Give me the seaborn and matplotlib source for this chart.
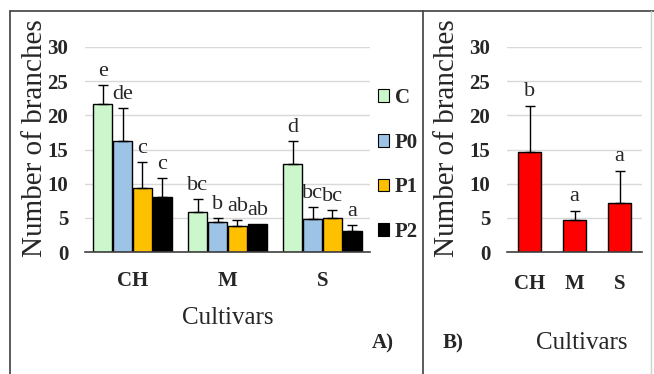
import matplotlib
matplotlib.use("Agg")
import matplotlib.pyplot as plt
from matplotlib.lines import Line2D
from matplotlib.patches import Patch
import pandas as pd
import seaborn as sns

# data
cultivars = ["CH", "M", "S"]
treatments = ["C", "P0", "P1", "P2"]
means_a = {
    "C": [21.6, 5.8, 12.9],
    "P0": [16.2, 4.4, 4.8],
    "P1": [9.4, 3.8, 5.0],
    "P2": [8.1, 4.1, 3.1],
}
err_a = {
    "C": [2.8, 1.9, 3.3],
    "P0": [4.9, 0.6, 1.8],
    "P1": [3.8, 0.9, 1.1],
    "P2": [2.7, 0.0, 0.9],
}
letters_a = {
    "C": ["e", "bc", "d"],
    "P0": ["de", "b", "bc"],
    "P1": ["c", "ab", "bc"],
    "P2": ["c", "ab", "a"],
}
means_b = [14.7, 4.7, 7.2]
err_b = [6.6, 1.3, 4.6]
letters_b = ["b", "a", "a"]

colors = {"C": "#ccf7cc", "P0": "#9dc3e6", "P1": "#ffc000", "P2": "#000000"}

sns.set_style("white")
plt.rcParams["font.family"] = ["Liberation Serif", "DejaVu Serif"]

rows = []
for t in treatments:
    for c, v in zip(cultivars, means_a[t]):
        rows.append({"Cultivar": c, "Treatment": t, "Branches": v})
df = pd.DataFrame(rows)

fig = plt.figure(figsize=(6.54, 3.74), dpi=100)
W, H = 654, 374

def fx(px):
    return px / W

def fy(py):
    return 1 - py / H

ax_a = fig.add_axes([fx(85), fy(252), fx(370) - fx(85), fy(47) - fy(252)])
ax_b = fig.add_axes([fx(507), fy(252), fx(642) - fx(507), fy(47) - fy(252)])

sns.barplot(data=df, x="Cultivar", y="Branches", hue="Treatment",
            order=cultivars, hue_order=treatments, palette=colors,
            saturation=1, width=0.84, gap=0.08, errorbar=None,
            edgecolor="black", linewidth=1, legend=False, ax=ax_a)

for t, cont in zip(treatments, ax_a.containers):
    for bar, m, e, lab in zip(cont, means_a[t], err_a[t], letters_a[t]):
        xc = bar.get_x() + bar.get_width() / 2
        if e > 0:
            ax_a.errorbar(xc, m, yerr=[[0], [e]], fmt="none", ecolor="black",
                          elinewidth=1, capsize=3.5, capthick=1)
        ax_a.text(xc, m + e + 0.6, lab, ha="center", va="bottom",
                  fontsize=16, clip_on=False)

sns.barplot(x=cultivars, y=means_b, color="#ff0000", saturation=1,
            width=0.52, edgecolor="black", linewidth=1, errorbar=None, ax=ax_b)
for bar, m, e, lab in zip(ax_b.containers[0], means_b, err_b, letters_b):
    xc = bar.get_x() + bar.get_width() / 2
    ax_b.errorbar(xc, m, yerr=[[0], [e]], fmt="none", ecolor="black",
                  elinewidth=1, capsize=3.5, capthick=1)
    ax_b.text(xc, m + e + 0.8, lab, ha="center", va="bottom",
              fontsize=16, clip_on=False)

for ax in (ax_a, ax_b):
    ax.set_ylim(0, 30)
    ax.set_yticks(range(0, 31, 5))
    ax.grid(axis="y", color="#d9d9d9", linewidth=1)
    ax.set_axisbelow(True)
    for s in ("top", "right", "left"):
        ax.spines[s].set_visible(False)
    ax.spines["bottom"].set_color("#404040")
    ax.spines["bottom"].set_linewidth(1.2)
    ax.tick_params(axis="y", length=0, pad=12)
    ax.tick_params(axis="x", length=0, pad=14)
    for lbl in ax.get_xticklabels() + ax.get_yticklabels():
        lbl.set_fontweight("bold")
        lbl.set_fontsize(15)
    ax.set_xlabel("")
    ax.set_ylabel("Number of branches", fontsize=21)

ax_a.yaxis.set_label_coords(-0.130, 0.556)
ax_b.yaxis.set_label_coords(-0.345, 0.556)

ax_a.set_xlim(-0.5, 2.5)
ax_b.set_xlim(-0.5, 2.5)
ax_b.set_xticks([-0.5, 0.5, 1.5, 2.5], minor=True)
ax_b.tick_params(axis="x", which="minor", length=5, width=1,
                 color="#404040", direction="out")
ax_b.tick_params(axis="x", which="major", pad=16)

handles = [Patch(facecolor=colors[t], edgecolor="black", linewidth=0.8)
           for t in treatments]
fig.legend(handles, treatments, loc="center left",
           bbox_to_anchor=(fx(378), fy(165)), frameon=False,
           borderpad=0, borderaxespad=0,
           prop={"weight": "bold", "size": 15}, handlelength=0.55,
           handleheight=0.55, handletextpad=0.25, labelspacing=1.18)

fig.text(fx(228), fy(318), "Cultivars", ha="center", va="center", fontsize=18)
fig.text(fx(383), fy(343), "A)", ha="center", va="center", fontsize=15,
         fontweight="bold")
fig.text(fx(453), fy(343), "B)", ha="center", va="center", fontsize=15,
         fontweight="bold")
fig.text(fx(582), fy(343), "Cultivars", ha="center", va="center", fontsize=18)

# panel frames
frame = dict(color="#404040", linewidth=1.2, transform=fig.transFigure)
fig.add_artist(Line2D([fx(10), fx(654)], [fy(11), fy(11)], **frame))
fig.add_artist(Line2D([fx(10), fx(10)], [fy(11), fy(374)], **frame))
fig.add_artist(Line2D([fx(423), fx(423)], [fy(11), fy(374)], **frame))
fig.add_artist(Line2D([fx(651), fx(651)], [fy(11), fy(374)],
                      color="#d0d0d0", linewidth=1, transform=fig.transFigure))

fig.savefig("out.png", dpi=100)
